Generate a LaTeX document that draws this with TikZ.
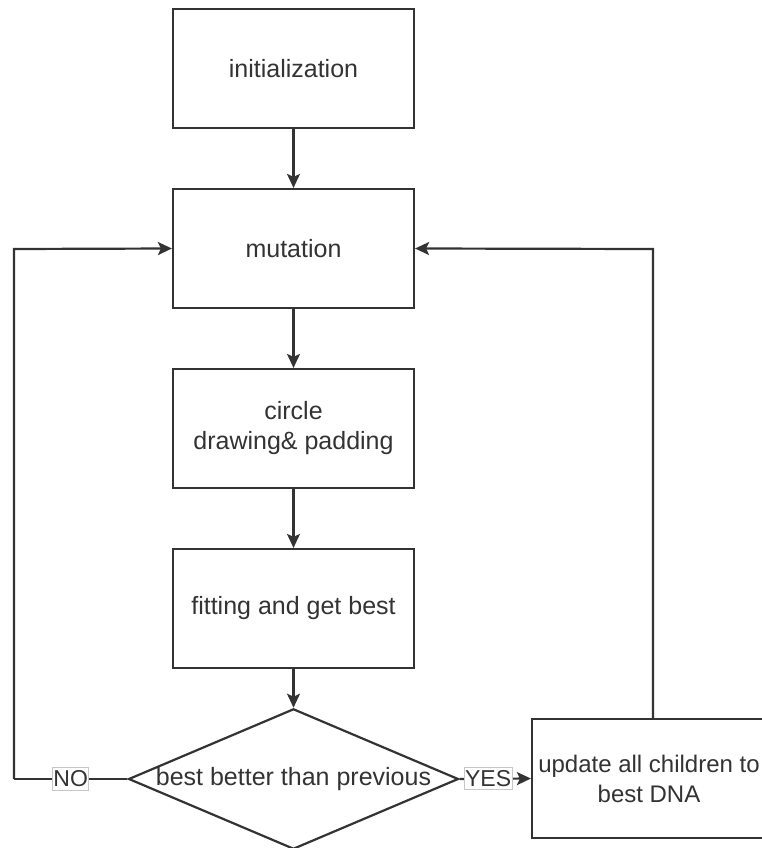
\documentclass[tikz,border=0pt]{standalone}
\usepackage{fontspec}
\setmainfont{Liberation Sans}
\usetikzlibrary{arrows.meta,shapes.geometric}
\definecolor{ln}{HTML}{333333}
\tikzset{
  x=1pt,y=-1pt,
  box/.style={draw=ln,line width=2.2pt,fill=white,minimum width=241pt,minimum height=119pt,inner sep=0pt,align=center,font=\fontsize{25}{30}\selectfont,text=ln},
  dec/.style={draw=ln,line width=2.2pt,fill=white,diamond,aspect=2.35,minimum width=329pt,minimum height=140pt,inner sep=0pt,font=\fontsize{25}{30}\selectfont,text=ln},
  conn/.style={draw=ln,line width=2.2pt,-{Stealth[length=14pt,width=13pt,inset=3pt]}},
  plain/.style={draw=ln,line width=2.2pt},
  lbl/.style={draw=black!22,line width=1pt,fill=white,inner xsep=1pt,inner ysep=3pt,font=\fontsize{23}{26}\selectfont,text=ln}
}
\begin{document}
\begin{tikzpicture}
\useasboundingbox (0,0) rectangle (762,848);
\node[box] (init) at (293.5,68.5) {initialization};
\node[box] (mut) at (293.5,248.5) {mutation};
\node[box] (circ) at (293.5,428.5) {circle\\drawing\& padding};
\node[box] (fit) at (293.5,608.5) {fitting and get best};
\node[dec] (dec) at (293.5,779) {best better than previous};
\node[box,minimum width=234pt,font=\fontsize{24}{30}\selectfont] (upd) at (649,778.5) {update all children to\\best DNA};
\coordinate (lc) at (14,779);
\coordinate (lt) at (14,249);
\coordinate (rt) at (653,249);
\draw[conn] (init) -- (mut);
\draw[conn] (mut) -- (circ);
\draw[conn] (circ) -- (fit);
\draw[conn] (fit) -- (dec);
\draw[conn] (dec.east) -- (upd.west) node[lbl,pos=0.4] {YES};
\draw[plain] (dec.west) -- (lc) node[lbl,pos=0.5] {NO};
\draw[conn] (lc) -- (lt) -- (mut.west);
\draw[conn] (upd.north -| rt) -- (rt) -- (mut.east);
\end{tikzpicture}
\end{document}
